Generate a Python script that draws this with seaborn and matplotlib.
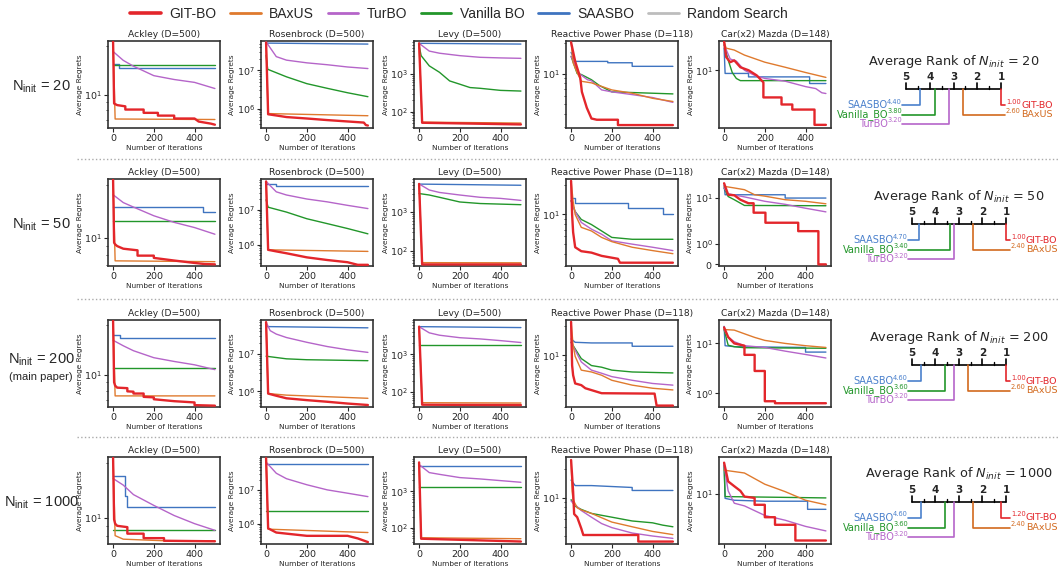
import matplotlib
matplotlib.use('Agg')
import matplotlib.pyplot as plt
from matplotlib.lines import Line2D
from matplotlib.ticker import NullFormatter
import pandas as pd
import seaborn as sns

methods = ['GIT-BO', 'BAxUS', 'TurBO', 'Vanilla BO', 'SAASBO', 'Random Search']
colors = ['#e3262b', '#df7a2e', '#b565c9', '#22962a', '#3f74c0', '#bdbdbd']
n_init = [20, 50, 200, 1000]
problems = ['Ackley (D=500)', 'Rosenbrock (D=500)', 'Levy (D=500)',
            'Reactive Power Phase (D=118)', 'Car(x2) Mazda (D=148)']

# best-so-far average regret, (iteration, regret)
ackley_20 = {
    'GIT-BO': [(0, 21.3), (5, 8.8), (20, 8.6), (60, 8.45), (60, 8.07), (150, 8.07), (150, 7.7), (220, 7.7),
               (220, 7.4), (300, 7.4), (300, 7.1), (400, 7.1), (420, 6.8), (480, 6.6), (500, 6.5)],
    'BAxUS': [(0, 21.3), (10, 7.05), (500, 7.0)],
    'TurBO': [(0, 18.5), (50, 16.3), (100, 15.0), (200, 13.1), (300, 12.4), (400, 11.9), (500, 10.9)],
    'Vanilla BO': [(0, 15.3), (500, 15.3)],
    'SAASBO': [(0, 15.5), (30, 15.5), (30, 14.7), (500, 14.7)],
}
rosen_20 = {
    'GIT-BO': [(0, 5.4e7), (10, 7.1e5), (50, 6.6e5), (100, 6.0e5), (200, 5.5e5), (300, 5.0e5), (400, 4.6e5),
               (480, 4.3e5), (490, 3.7e5), (500, 3.6e5)],
    'BAxUS': [(0, 5.4e7), (10, 7.4e5), (500, 6.5e5)],
    'TurBO': [(0, 5.6e7), (50, 2.3e7), (100, 1.86e7), (200, 1.58e7), (300, 1.41e7), (400, 1.23e7), (500, 1.12e7)],
    'Vanilla BO': [(0, 2.5e7), (8, 1.07e7), (100, 6.8e6), (200, 4.5e6), (300, 3.4e6), (400, 2.6e6), (500, 2.05e6)],
    'SAASBO': [(0, 5.2e7), (500, 4.9e7)],
}
levy_20 = {
    'GIT-BO': [(0, 6600), (15, 51), (500, 46)],
    'BAxUS': [(0, 6600), (15, 53), (500, 50)],
    'TurBO': [(0, 6600), (50, 4100), (100, 3600), (200, 3100), (300, 2800), (400, 2700), (500, 2630)],
    'Vanilla BO': [(0, 5800), (10, 3100), (50, 1660), (100, 1120), (150, 660), (200, 540), (250, 440),
                   (300, 420), (400, 370), (500, 355)],
    'SAASBO': [(0, 6600), (500, 6300)],
}
reactive_20 = {
    'GIT-BO': [(0, 20.4), (20, 13.2), (45, 9.1), (53, 6.6), (77, 4.6), (100, 3.6), (126, 3.5), (230, 3.5),
               (230, 3.1), (500, 3.1)],
    'BAxUS': [(0, 20.4), (10, 12.8), (30, 10.2), (50, 8.4), (100, 8.1), (200, 6.9), (300, 6.4), (400, 5.7), (500, 5.3)],
    'TurBO': [(0, 14.8), (40, 10.0), (80, 8.7), (100, 8.5), (150, 6.9), (200, 6.6), (300, 6.2), (400, 5.8), (500, 5.2)],
    'Vanilla BO': [(0, 14.8), (30, 10.0), (50, 9.8), (100, 8.7), (140, 7.6), (200, 6.6), (300, 6.5), (500, 6.3)],
    'SAASBO': [(0, 16.2), (20, 13.2), (180, 13.2), (180, 12.8), (300, 12.8), (300, 11.8), (500, 11.8)],
}
car_20 = {
    'GIT-BO': [(0, 19.2), (10, 13.5), (30, 12.0), (50, 12.5), (80, 10.7), (120, 10.0), (160, 8.9), (193, 7.6),
               (193, 5.4), (282, 5.4), (282, 4.6), (335, 4.6), (335, 4.1), (444, 4.1), (444, 2.9), (500, 2.9)],
    'BAxUS': [(0, 19.2), (10, 16.5), (50, 15.8), (100, 14.1), (200, 12.0), (300, 10.7), (400, 9.5), (500, 8.5)],
    'TurBO': [(0, 17.8), (30, 12.9), (60, 12.3), (100, 10.0), (150, 8.9), (200, 8.3), (300, 7.8), (400, 6.9),
              (450, 6.6), (480, 6.0), (500, 5.9)],
    'Vanilla BO': [(0, 17.8), (20, 12.6), (40, 9.5), (60, 8.3), (80, 7.9), (500, 7.9)],
    'SAASBO': [(0, 16.6), (5, 9.3), (120, 9.3), (120, 8.6), (420, 8.6), (420, 7.4), (500, 7.4)],
}

ackley_50 = {
    'GIT-BO': [(0, 21.3), (5, 9.35), (10, 9.16), (20, 8.95), (50, 8.65), (120, 8.47), (120, 7.9), (200, 7.9),
               (200, 7.67), (300, 7.41), (400, 7.18), (450, 7.08), (500, 7.05)],
    'BAxUS': [(0, 21.3), (10, 7.38), (500, 7.3)],
    'TurBO': [(0, 17.5), (50, 15.8), (100, 14.9), (200, 13.3), (300, 12.2), (400, 11.4), (500, 10.45)],
    'Vanilla BO': [(0, 12.4), (500, 12.4)],
    'SAASBO': [(0, 14.9), (440, 14.9), (440, 13.9), (500, 13.9)],
}
rosen_50 = {
    'GIT-BO': [(0, 6.3e7), (10, 7.2e5), (50, 6.5e5), (100, 5.75e5), (200, 4.4e5), (300, 3.7e5), (400, 3.2e5),
               (450, 2.7e5), (500, 2.7e5)],
    'BAxUS': [(0, 6.3e7), (10, 7.2e5), (500, 6.5e5)],
    'TurBO': [(0, 6.3e7), (50, 3.2e7), (100, 2.6e7), (200, 2.0e7), (300, 1.66e7), (400, 1.32e7), (500, 1.07e7)],
    'Vanilla BO': [(0, 1.9e7), (10, 1.17e7), (100, 8.5e6), (200, 5.5e6), (300, 4.0e6), (400, 2.9e6), (500, 2.05e6)],
    'SAASBO': [(0, 5.5e7), (50, 5.5e7), (50, 4.7e7), (500, 4.7e7)],
}
levy_50 = {
    'GIT-BO': [(0, 5300), (15, 45), (500, 45)],
    'BAxUS': [(0, 5300), (15, 50), (500, 49.5)],
    'TurBO': [(0, 5300), (50, 3700), (100, 3200), (200, 2750), (300, 2400), (400, 2250), (500, 2000)],
    'Vanilla BO': [(0, 3000), (50, 2750), (100, 2400), (200, 1820), (300, 1660), (500, 1550)],
    'SAASBO': [(0, 5250), (500, 4900)],
}
reactive_50 = {
    'GIT-BO': [(0, 21.9), (5, 10.0), (10, 6.6), (20, 4.65), (50, 4.24), (100, 4.1), (150, 3.8), (230, 3.55),
               (240, 3.24), (500, 3.24)],
    'BAxUS': [(0, 21.9), (10, 13.6), (20, 10.0), (50, 7.4), (100, 6.8), (150, 5.85), (200, 5.3), (300, 4.65),
              (400, 4.3), (500, 4.0)],
    'TurBO': [(0, 13.8), (20, 10.7), (50, 8.3), (100, 7.1), (150, 6.3), (200, 5.4), (300, 5.0), (400, 4.65), (500, 4.3)],
    'Vanilla BO': [(0, 13.8), (20, 10.7), (50, 8.9), (100, 7.9), (150, 6.8), (200, 5.85), (300, 5.6), (500, 5.6)],
    'SAASBO': [(0, 14.7), (20, 14.7), (20, 13.1), (280, 13.1), (280, 11.7), (450, 11.7), (450, 10.2), (500, 10.2)],
}
car_50 = {
    'GIT-BO': [(0, 21), (20, 11.8), (50, 11.5), (80, 9.2), (120, 7.7), (145, 7.7), (145, 4.8), (203, 4.8),
               (203, 2.9), (364, 2.9), (364, 1.9), (463, 1.9), (463, 0.0), (500, 0.0)],
    'BAxUS': [(0, 18), (50, 16.6), (100, 15.2), (150, 11.8), (200, 11.0), (300, 9.2), (400, 8.5), (500, 7.5)],
    'TurBO': [(0, 16.6), (20, 12.4), (100, 10.6), (200, 8.5), (300, 7.3), (400, 6.0), (500, 5.0)],
    'Vanilla BO': [(0, 16.6), (20, 10.8), (50, 9.2), (100, 6.9), (500, 6.8)],
    'SAASBO': [(0, 19), (5, 11.8), (300, 11.8), (300, 10.0), (500, 10.0)],
}

ackley_200 = {
    'GIT-BO': [(0, 21.3), (5, 9.0), (10, 8.6), (20, 8.36), (70, 8.3), (70, 7.94), (100, 7.9), (100, 7.7),
               (150, 7.7), (150, 7.35), (200, 7.3), (200, 7.11), (300, 6.92), (400, 6.8), (400, 6.55), (500, 6.5)],
    'BAxUS': [(0, 21.3), (10, 7.45), (500, 7.45)],
    'TurBO': [(0, 16.2), (50, 15.0), (100, 14.0), (200, 12.7), (300, 12.05), (400, 11.5), (500, 10.75)],
    'Vanilla BO': [(0, 11.0), (500, 11.0)],
    'SAASBO': [(0, 17.4), (35, 17.4), (35, 16.7), (500, 16.7)],
}
rosen_200 = {
    'GIT-BO': [(0, 7.1e7), (10, 8.7e5), (50, 7.6e5), (100, 6.5e5), (200, 5.8e5), (300, 5.25e5), (400, 4.7e5),
               (500, 4.3e5)],
    'BAxUS': [(0, 7.1e7), (10, 8.7e5), (100, 7.9e5), (500, 6.5e5)],
    'TurBO': [(0, 7.1e7), (20, 4.2e7), (50, 3.4e7), (100, 2.75e7), (200, 2.05e7), (300, 1.58e7), (400, 1.29e7),
              (500, 1.1e7)],
    'Vanilla BO': [(0, 8.7e6), (100, 7.4e6), (200, 7.0e6), (500, 6.6e6)],
    'SAASBO': [(0, 5.4e7), (500, 5.0e7)],
}
levy_200 = {
    'GIT-BO': [(0, 5400), (15, 46), (500, 45)],
    'BAxUS': [(0, 5400), (15, 52), (500, 51)],
    'TurBO': [(0, 5400), (50, 3700), (100, 3200), (200, 2750), (300, 2550), (400, 2300), (500, 2050)],
    'Vanilla BO': [(0, 1740), (500, 1740)],
    'SAASBO': [(0, 5400), (500, 5100)],
}
reactive_200 = {
    'GIT-BO': [(0, 21.9), (5, 7.94), (10, 6.3), (20, 5.2), (50, 5.0), (70, 4.65), (150, 4.14), (410, 4.1),
               (420, 3.1), (500, 3.1)],
    'BAxUS': [(0, 21.9), (10, 12.6), (20, 9.8), (50, 7.1), (100, 6.8), (150, 6.3), (200, 5.6), (300, 5.0),
              (400, 4.65), (500, 4.47)],
    'TurBO': [(0, 13.6), (50, 8.6), (100, 7.1), (150, 6.6), (200, 6.1), (300, 5.6), (400, 5.2), (500, 5.0)],
    'Vanilla BO': [(0, 13.6), (50, 9.3), (100, 7.9), (150, 7.6), (200, 7.1), (300, 6.8), (500, 6.65)],
    'SAASBO': [(0, 14.7), (20, 13.6), (100, 13.4), (300, 13.4), (300, 12.4), (500, 12.4)],
}
car_200 = {
    'GIT-BO': [(0, 21), (20, 13.4), (50, 10), (100, 9.0), (100, 5.9), (150, 5.9), (150, 2.8), (200, 2.8),
               (200, 0.64), (250, 0.64), (250, 0.55), (500, 0.55)],
    'BAxUS': [(0, 19), (50, 18.5), (100, 15.6), (150, 13.2), (200, 11.5), (300, 10.0), (400, 9.0), (500, 8.3)],
    'TurBO': [(0, 19), (20, 13.4), (50, 10.8), (100, 9.0), (200, 8.3), (300, 7.0), (400, 6.0), (500, 5.1)],
    'Vanilla BO': [(0, 19), (20, 9.2), (50, 8.6), (100, 8.2), (500, 8.0)],
    'SAASBO': [(0, 22), (5, 9.0), (50, 8.6), (400, 8.3), (400, 6.7), (500, 6.7)],
}

ackley_1000 = {
    'GIT-BO': [(0, 21.3), (5, 9.8), (10, 9.3), (20, 9.05), (70, 8.9), (70, 8.2), (150, 8.2), (150, 7.75),
               (250, 7.75), (250, 7.5), (500, 7.45)],
    'BAxUS': [(0, 21.3), (10, 8.0), (50, 7.65), (250, 7.5), (500, 7.5)],
    'TurBO': [(0, 16.4), (50, 15.1), (100, 13.4), (200, 11.7), (300, 10.3), (400, 9.3), (500, 8.55)],
    'Vanilla BO': [(0, 8.55), (500, 8.55)],
    'SAASBO': [(0, 17.0), (60, 17.0), (60, 13.1), (70, 13.1), (70, 11.4), (500, 11.4)],
}
rosen_1000 = {
    'GIT-BO': [(0, 9.0e7), (10, 7.2e5), (50, 5.4e5), (100, 5.0e5), (200, 4.3e5), (400, 4.3e5), (450, 3.6e5),
               (500, 2.8e5)],
    'BAxUS': [(0, 9.0e7), (10, 6.8e5), (500, 5.4e5)],
    'TurBO': [(0, 6.9e7), (50, 3.2e7), (100, 2.2e7), (200, 1.45e7), (300, 1.02e7), (400, 8.1e6), (500, 6.4e6)],
    'Vanilla BO': [(0, 2.35e6), (500, 2.35e6)],
    'SAASBO': [(0, 5.9e7), (500, 5.9e7)],
}
levy_1000 = {
    'GIT-BO': [(0, 6300), (10, 49), (500, 41)],
    'BAxUS': [(0, 6300), (10, 52), (500, 49)],
    'TurBO': [(0, 5500), (50, 3300), (100, 2950), (200, 2400), (300, 2200), (500, 1780)],
    'Vanilla BO': [(0, 1290), (500, 1290)],
    'SAASBO': [(0, 5100), (500, 5100)],
}
reactive_1000 = {
    'GIT-BO': [(0, 25), (10, 11.7), (15, 6.8), (30, 6.3), (50, 4.8), (60, 4.1), (330, 4.1), (330, 3.5), (500, 3.5)],
    'BAxUS': [(0, 25), (5, 11.7), (10, 9.6), (30, 7.9), (50, 7.5), (100, 6.9), (200, 5.6), (300, 5.0), (400, 4.47),
              (500, 4.14)],
    'TurBO': [(0, 9.3), (50, 7.4), (100, 6.3), (150, 5.4), (200, 4.9), (300, 4.3), (400, 4.0), (500, 3.78)],
    'Vanilla BO': [(0, 9.6), (20, 8.2), (50, 7.6), (100, 6.9), (200, 6.3), (300, 5.75), (400, 5.5), (450, 5.2),
                   (500, 5.0)],
    'SAASBO': [(0, 15.4), (20, 13.5), (100, 13.5), (300, 12.9), (300, 12.0), (500, 12.0)],
}
car_1000 = {
    'GIT-BO': [(0, 21.4), (20, 13.5), (50, 12.0), (80, 10.7), (100, 9.3), (150, 9.0), (150, 7.6), (200, 7.6),
               (200, 5.6), (250, 5.6), (250, 4.65), (350, 4.65), (350, 3.16), (500, 3.16)],
    'BAxUS': [(0, 17.8), (100, 16.6), (200, 12.6), (300, 10.5), (400, 8.5), (500, 7.6)],
    'TurBO': [(0, 20), (20, 10.7), (50, 7.9), (100, 7.4), (200, 5.85), (300, 5.2), (400, 4.47), (500, 4.0)],
    'Vanilla BO': [(0, 20), (5, 9.3), (500, 9.0)],
    'SAASBO': [(0, 21), (5, 8.9), (50, 8.5), (200, 8.3), (410, 8.3), (410, 6.8), (500, 6.8)],
}

# average rank per N_init
rank_names = ['SAASBO', 'Vanilla_BO', 'TurBO', 'GIT-BO', 'BAxUS']
rank_colors = ['#4a80cc', '#22962a', '#b565c9', '#e3262b', '#d2691e']
rank_20 = [4.40, 3.80, 3.20, 1.00, 2.60]
rank_50 = [4.70, 3.40, 3.20, 1.00, 2.40]
rank_200 = [4.60, 3.60, 3.20, 1.00, 2.60]
rank_1000 = [4.60, 3.60, 3.20, 1.20, 2.40]

panel_rows = [
    [ackley_20, rosen_20, levy_20, reactive_20, car_20],
    [ackley_50, rosen_50, levy_50, reactive_50, car_50],
    [ackley_200, rosen_200, levy_200, reactive_200, car_200],
    [ackley_1000, rosen_1000, levy_1000, reactive_1000, car_1000],
]
rank_rows = [rank_20, rank_50, rank_200, rank_1000]

# axis ranges per panel
ylims = [
    [(6.2, 21.5), (3.1e5, 5.9e7), (37, 7600), (2.9, 21), (2.7, 19.4)],
    [(6.9, 21.5), (2.5e5, 7.4e7), (41, 7100), (3.0, 22.9), (-0.08, 26)],
    [(6.38, 21.5), (3.8e5, 8.1e7), (40, 8100), (3.0, 22.9), (0.38, 29.5)],
    [(7.2, 21.5), (2.45e5, 9.8e7), (35, 8900), (3.3, 26.9), (2.9, 24.6)],
]

sns.set_theme(style='ticks')
plt.rcParams['font.family'] = ['DejaVu Sans']
plt.rcParams['mathtext.fontset'] = 'custom'
plt.rcParams['mathtext.rm'] = 'Liberation Sans'
plt.rcParams['mathtext.it'] = 'DejaVu Sans:italic'
plt.rcParams['mathtext.bf'] = 'DejaVu Sans:bold'

W, H = 1061, 571
fig = plt.figure(figsize=(W / 100, H / 100), dpi=100)


def rect(left, top, w, h):
    return [left / W, 1 - (top + h) / H, w / W, h / H]


palette = dict(zip(methods, colors))
draw_order = ['SAASBO', 'Vanilla BO', 'TurBO', 'BAxUS', 'GIT-BO']
panel_left = [108, 261, 414, 566, 719]
row_top = [41, 179, 320, 457]
pw, ph = 112, 87

for r, row in enumerate(panel_rows):
    for c, curves in enumerate(row):
        ax = fig.add_axes(rect(panel_left[c], row_top[r], pw, ph))
        for k, m in enumerate(draw_order):
            d = pd.DataFrame(curves[m], columns=['iter', 'regret'])
            sns.lineplot(data=d, x='iter', y='regret', ax=ax, color=palette[m],
                         linewidth=1.7 if m == 'GIT-BO' else 1.0,
                         estimator=None, sort=False, zorder=2 + k)
        if c == 4:
            ax.set_yscale('symlog', linthresh=1, linscale=0.4)
        else:
            ax.set_yscale('log')
        ax.set_ylim(*ylims[r][c])
        ax.set_xlim(-25, 525)
        ax.set_xticks([0, 200, 400])
        ax.yaxis.set_minor_formatter(NullFormatter())
        ax.set_title(problems[c], fontsize=6.6, pad=3)
        ax.set_xlabel('Number of Iterations', fontsize=5.3, labelpad=1)
        ax.set_ylabel('Average Regrets', fontsize=5.3, labelpad=1)
        ax.tick_params(labelsize=6.8, length=3, width=0.8, pad=1.5)
        ax.tick_params(which='minor', length=1.5, width=0.6)
        for s in ax.spines.values():
            s.set_linewidth(1.2)
            s.set_color('#333333')

# row labels
for r, n in enumerate(n_init):
    yc = row_top[r] + ph / 2 + 2
    if n == 200:
        fig.text(41 / W, 1 - (yc - 6) / H, r'N$_{\rm init}$ = %d' % n, ha='center', va='center',
                 fontsize=10.5, family='Liberation Sans')
        fig.text(41 / W, 1 - (yc + 11) / H, '(main paper)', ha='center', va='center',
                 fontsize=8, family='Liberation Sans')
    else:
        fig.text(41 / W, 1 - yc / H, r'N$_{\rm init}$ = %d' % n, ha='center', va='center',
                 fontsize=10.5, family='Liberation Sans')

# average rank diagrams
rank_x5 = [906, 912, 912, 912]
rank_axis_y = [89, 224, 365, 502]
for r, ranks in enumerate(rank_rows):
    span = 95 if r == 0 else 94
    rax = fig.add_axes(rect(rank_x5[r], rank_axis_y[r] - 40, span, 85))
    rax.set_xlim(5, 1)
    rax.set_ylim(45, -40)
    rax.axis('off')
    ppx = 4 / span
    rax.plot([5, 1], [0, 0], color='black', lw=1.2, clip_on=False)
    for v in range(1, 6):
        rax.plot([v, v], [0, -6], color='black', lw=1.2, clip_on=False)
        rax.text(v, -12, str(v), ha='center', va='center', fontsize=7.5, fontweight='bold')
    for v in [1.5, 2.5, 3.5, 4.5]:
        rax.plot([v, v], [0, -3], color='black', lw=1.0, clip_on=False)
    rax.text(3, -28, r'Average Rank of $N_{init}$ = %d' % n_init[r], ha='center', va='center', fontsize=9.3)

    order = sorted(range(5), key=lambda i: -ranks[i])
    left_group = order[:3]
    right_group = order[3:][::-1]
    offs = [16, 25.5, 35]
    for j, i in enumerate(left_group):
        y = offs[j]
        x_end = 5 + 4 * ppx
        rax.plot([ranks[i], ranks[i], x_end], [0, y, y], color=rank_colors[i], lw=1.2, clip_on=False)
        rax.text(x_end, y - 0.5, '%.2f' % ranks[i], ha='right', va='bottom', fontsize=4.8, color=rank_colors[i])
        rax.text(5 + 18 * ppx, y, rank_names[i], ha='right', va='center', fontsize=7, color=rank_colors[i])
    for j, i in enumerate(right_group):
        y = offs[j]
        x_end = 1 - 4 * ppx
        rax.plot([ranks[i], ranks[i], x_end], [0, y, y], color=rank_colors[i], lw=1.2, clip_on=False)
        rax.text(x_end - ppx, y - 0.5, '%.2f' % ranks[i], ha='left', va='bottom', fontsize=4.8, color=rank_colors[i])
        rax.text(1 - 20 * ppx, y, rank_names[i], ha='left', va='center', fontsize=6.8, color=rank_colors[i])

# dotted row separators
for y in [159, 299, 437]:
    fig.add_artist(Line2D([77 / W, 1058 / W], [1 - y / H, 1 - y / H], transform=fig.transFigure,
                          ls=':', color='#aaaaaa', lw=1.0))

handles = [Line2D([], [], color=palette[m], lw=2.6 if m == 'GIT-BO' else 2.0) for m in methods]
fig.legend(handles, methods, loc='center', bbox_to_anchor=(459 / W, 1 - 14 / H), ncol=6, frameon=False,
           prop={'family': 'Liberation Sans', 'size': 10},
           handlelength=2.2, handletextpad=0.6, columnspacing=1.0)

fig.savefig('out.png', dpi=100)
